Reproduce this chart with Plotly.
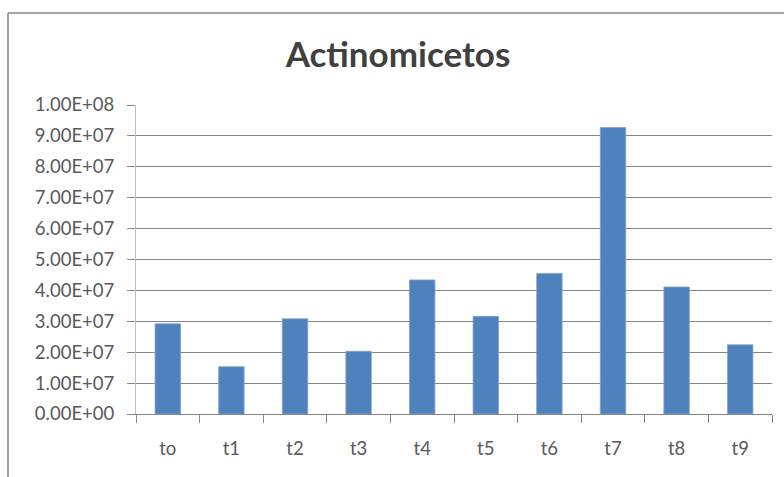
import plotly.graph_objects as go

categories = ["to", "t1", "t2", "t3", "t4", "t5", "t6", "t7", "t8", "t9"]
values = [2.92e7, 1.53e7, 3.08e7, 2.03e7, 4.34e7, 3.16e7, 4.55e7, 9.27e7, 4.11e7, 2.24e7]
y_ticks = [i * 1e7 for i in range(11)]
y_tick_labels = ["%.2fE+%02d" % ((v / 1e7, 7) if v < 1e8 else (1.0, 8)) if v > 0 else "0.00E+00" for v in y_ticks]

W, H = 784, 477
L, R, T, B = 136, 12, 105, 63

fig = go.Figure(go.Bar(
    x=categories, y=values,
    marker=dict(color="#4F81BD", line=dict(color="#7FA2D3", width=0.8)),
    width=0.4,
))

pw = W - L - R
ph = H - T - B
def px_x(p):
    return (p - L) / pw
def px_y(p):
    return (H - B - p) / ph

fig.update_layout(
    width=W, height=H,
    margin=dict(l=L, r=R, t=T, b=B),
    paper_bgcolor="white", plot_bgcolor="white",
    showlegend=False,
    title=dict(text="<b>Actinomicetos</b>", x=px_x(398), xanchor="center", xref="paper",
               y=1 - 55 / H, yanchor="middle",
               font=dict(family="Lato, Open Sans, sans-serif", size=35, color="#404040")),
    font=dict(family="Lato, Open Sans, sans-serif", color="#595959", size=15),
    xaxis=dict(
        type="category", tickson="boundaries", ticks="outside", ticklen=8, tickcolor="#868686",
        showline=True, linecolor="#868686", linewidth=1, showgrid=False,
        tickfont=dict(size=18.5, color="#595959"), ticklabelstandoff=18,
        range=[-0.5, 9.5],
    ),
    yaxis=dict(
        range=[0, 1e8], tickvals=y_ticks, ticktext=y_tick_labels,
        ticks="outside", ticklen=8, tickcolor="#868686",
        showline=True, linecolor="#BFBFBF", linewidth=1,
        showgrid=True, gridcolor="#868686", gridwidth=1,
        zeroline=False, tickfont=dict(size=18.5, color="#595959"), ticklabelstandoff=9,
    ),
    shapes=[
        dict(type="line", xref="paper", yref="paper", x0=px_x(8), x1=px_x(W + 5), y0=px_y(13), y1=px_y(13),
             line=dict(color="#868686", width=1.5)),
        dict(type="line", xref="paper", yref="paper", x0=px_x(8), x1=px_x(8), y0=px_y(13), y1=px_y(H + 5),
             line=dict(color="#868686", width=1.5)),
    ],
)

fig.write_html("out.html")
